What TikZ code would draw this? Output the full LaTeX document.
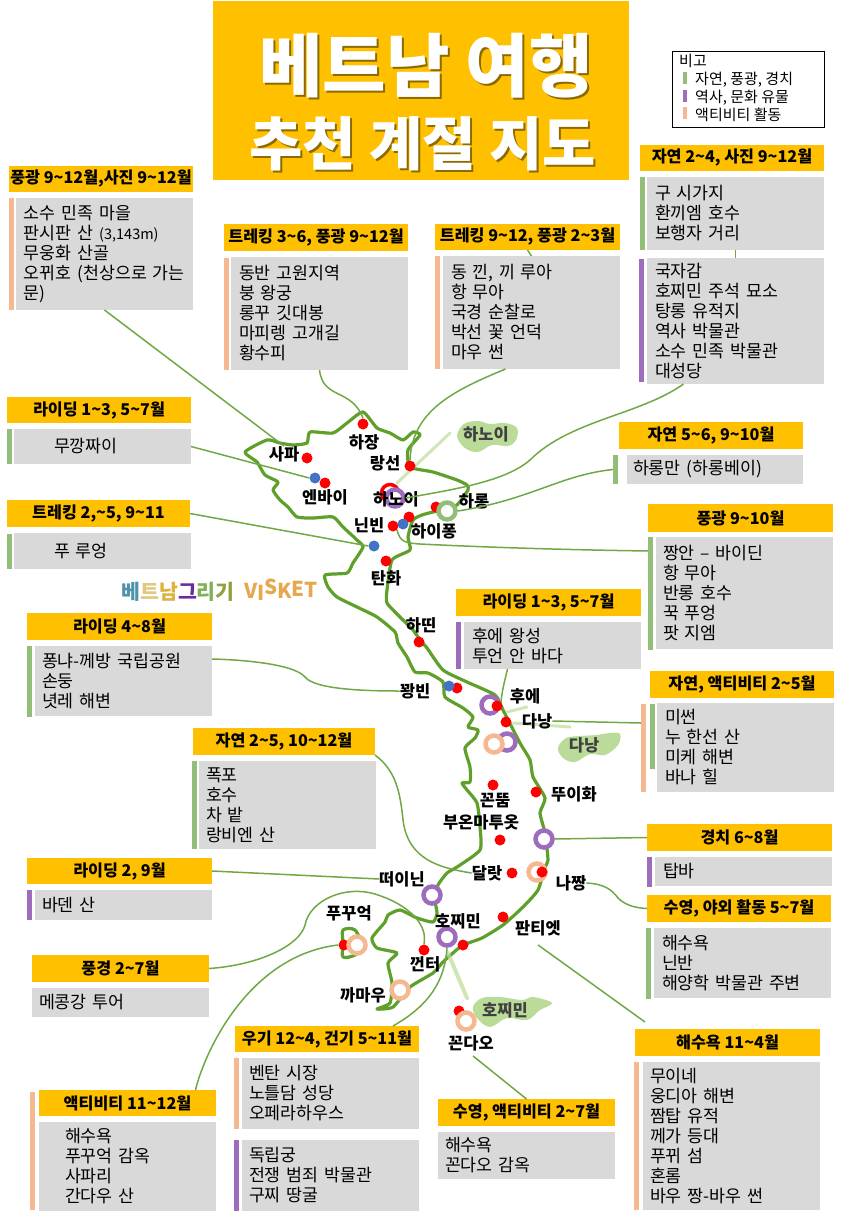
\documentclass[tikz,border=0pt]{standalone}
\usepackage{fontspec}
\setmainfont{Noto Sans CJK KR}
\usetikzlibrary{positioning, calc}
\definecolor{orangehead}{HTML}{FFC000}
\definecolor{greybody}{HTML}{D9D9D9}
\definecolor{greenbar}{HTML}{93BE7A}
\definecolor{purplebar}{HTML}{9E6CBC}
\definecolor{peachbar}{HTML}{F5B890}
\definecolor{mapline}{HTML}{5FA02A}
\definecolor{linkline}{HTML}{6FA844}
\definecolor{dotblue}{HTML}{4472C4}
\definecolor{washgreen}{HTML}{BBDC98}
\catcode`\~=12
\begin{document}
\begin{tikzpicture}[
    x=1pt, y=-1pt,
    head/.style={fill=orangehead, anchor=north west, inner sep=0pt, outer sep=0pt, font=\fontsize{16.2}{18}\selectfont\bfseries},
    body/.style={fill=greybody, anchor=north west, inner sep=0pt, outer sep=0pt, align=left, font=\fontsize{17.3}{20}\selectfont},
    bar/.style={anchor=north west, inner sep=0pt, outer sep=0pt},
    reddot/.style={circle, fill=red, minimum size=11pt, inner sep=0pt},
    bluedot/.style={circle, fill=dotblue, minimum size=11pt, inner sep=0pt},
    ring/.style={circle, draw=#1, fill=white, line width=4.5pt, minimum size=17pt, inner sep=0pt},
    place/.style={inner sep=0pt, font=\fontsize{16.5}{18}\selectfont\bfseries},
    leaflabel/.style={inner sep=0pt, text=black!75, font=\fontsize{16.5}{18}\selectfont\bfseries},
    link/.style={linkline, line width=1.5pt},
    wash/.style={washgreen, line cap=round, opacity=.7},
    blob/.style={fill=washgreen},
    titleA/.style={font=\fontsize{69}{72}\selectfont\bfseries},
    titleB/.style={font=\fontsize{58}{62}\selectfont\bfseries}
]
    \useasboundingbox (0,0) rectangle (848,1220);

    % title, with its shadow under it
    \fill[orangehead] (213,1) rectangle (629,180);
    \node[titleA, text=orangehead!55!black] (title1s) at (428,68) {베트남 여행};
    \node[titleA, text=white] (title1) at (426,65.5) {베트남 여행};
    \node[titleB, text=orangehead!55!black] (title2s) at (424.5,146) {추천 계절 지도};
    \node[titleB, text=white] (title2) at (422.5,143.5) {추천 계절 지도};

    % legend
    \node[draw=black, line width=1pt, anchor=north west, minimum width=152pt, minimum height=76pt, inner sep=0pt] (legend) at (672,51) {};
    \node[anchor=west, inner sep=0pt, font=\fontsize{15}{16}\selectfont] (legendT) at (679,61) {비고};
    \foreach \txt/\col/\yy [count=\i] in {{자연, 풍광, 경치}/greenbar/78, {역사, 문화 유물}/purplebar/96, {액티비티 활동}/peachbar/113} {
        \node[fill=\col, minimum width=3.5pt, minimum height=12pt, inner sep=0pt] (legendB\i) at (685,\yy) {};
        \node[anchor=west, inner sep=0pt, font=\fontsize{15}{16}\selectfont] (legendL\i) at (695,\yy+1.5) {\txt};
    }

    % logo
    \node[inner sep=0pt, font=\fontsize{20.5}{21}\selectfont\bfseries] (logo) at (178,592) {\textcolor[HTML]{4F93A8}{베}\textcolor[HTML]{E2C77E}{트}\textcolor[HTML]{DDB13C}{남}\textcolor[HTML]{6A2C9C}{그}\textcolor[HTML]{7FB05A}{리}\textcolor[HTML]{93A040}{기}};
    \node[inner sep=0pt, text={rgb,255:red,229;green,168;blue,78}, font=\fontsize{20.5}{22}\selectfont\bfseries] (visket) at (281,590) {V\raisebox{-2pt}{I}\raisebox{4pt}{S}K\raisebox{2pt}{E}\raisebox{1pt}{T}};

    % map
    \draw[mapline, line width=3.2pt, line join=round] plot[smooth cycle, tension=.35] coordinates {
        (363,412) (347,423) (333,433) (310,432) (307,443) (293,445) (280,443) (267,440) (245,452)
        (257,462) (265,475) (278,482) (273,490) (280,500) (288,507) (297,517) (313,518) (333,517)
        (343,527) (357,540) (363,547) (353,563) (347,573) (325,575) (328,587) (337,597) (357,607)
        (377,617) (395,632) (398,643) (407,657) (415,672) (428,673) (443,682) (445,697) (463,708)
        (473,717) (468,727) (478,730) (475,738) (465,748) (470,767) (470,782) (462,783) (467,790)
        (477,803) (480,827) (480,850) (457,867) (447,873) (438,885) (435,900) (437,913) (433,922)
        (417,918) (400,910) (388,915) (385,922) (372,938) (377,948) (397,953) (388,963) (392,983)
        (390,1003) (377,1009) (393,1007) (410,987) (433,973) (443,962) (453,953) (463,945) (482,938)
        (503,925) (523,907) (538,890) (545,867) (548,860) (545,833) (540,813) (545,798) (533,777)
        (530,760) (520,743) (503,710) (495,695) (467,682) (443,670) (427,648) (420,640) (413,630)
        (400,617) (387,603) (387,590) (392,560) (410,550) (408,537) (413,520) (422,515) (433,512)
        (445,510) (457,505) (468,490) (467,485) (457,480) (433,472) (410,467) (408,450) (420,435)
        (413,432) (403,440) (390,433) (377,428)
    };
    \draw[mapline, line width=3.2pt, line join=round] plot[smooth cycle, tension=.5] coordinates {(343,930) (355,930) (362,947) (355,955) (343,957) (343,943)};

    % wash leaders and leaves
    \draw[wash, line width=3pt] (450,433) -- (397,483);
    \draw[wash, line width=3pt] (527,707) -- (507,712);
    \draw[wash, line width=3pt] (570,727) -- (513,723);
    \draw[wash, line width=4pt] (467,998) -- (448,953);
    \fill[blob] plot[smooth cycle, tension=.6] coordinates {(457,436) (464,424) (478,421) (490,424) (505,423) (517,428) (516,440) (508,446) (492,445) (478,452) (465,448)};
    \fill[blob] plot[smooth cycle, tension=.6] coordinates {(558,748) (566,738) (580,736) (596,735) (610,733) (620,734) (618,745) (605,755) (590,754) (575,762) (563,758)};
    \fill[blob] plot[smooth cycle, tension=.6] coordinates {(473,1007) (482,998) (500,997) (522,1000) (533,997) (552,1003) (540,1010) (527,1020) (507,1018) (490,1027) (477,1018)};

    % cities
    \node[circle, draw=red, line width=3.5pt, minimum size=17pt, inner sep=0pt] (hanoiR) at (390,493) {};
    \foreach \name/\xx/\yy in {dHagiang/363/424, dSapa/307/458, dYenbai/325/483, dLangson/410/466, dHalong/436/507, dHaiphong/409/517,
        dNinhbinh/393/526, dThanhhoa/386/561, dHatinh/419/642, dQuangbinh/457/688, dDanang/506/722, dKontum/493/785, dTuyhoa/536/792,
        dBuon/500/840, dDalat/512/873, dPhanthiet/503/917, dHcm/463/945, dCantho/424/950, dPhuquoc/344/945, dCondao/459/1011} {
        \node[reddot] (\name) at (\xx,\yy) {};
    }
    \foreach \name/\xx/\yy in {bYenbai/315/478, bNinhbinh/403/524, bMuong/374/546, bQuangbinh/449/686} {
        \node[bluedot] (\name) at (\xx,\yy) {};
    }
    \foreach \name/\col/\xx/\yy in {rHanoi/purplebar/395/498, rHalong/greenbar/447/511, rHue/purplebar/490/705, rHoian/purplebar/507/742,
        rMyson/peachbar/494/744, rKhanh/purplebar/544/839, rNhatrang/peachbar/537/872, rTayninh/purplebar/432/895, rHcm/purplebar/447/937,
        rPhuquoc/peachbar/357/945, rCamau/peachbar/400/990, rCondao/peachbar/466/1021} {
        \node[ring=\col] (\name) at (\xx,\yy) {};
    }
    \node[reddot] (dHue) at (497,706) {};
    \node[reddot] (dNhatrang) at (542,872) {};
    \foreach \name/\xx/\yy/\txt in {lSapa/284/454/사파, lHagiang/364/442/하장, lLangson/385/463/랑선, lYenbai/325/497/엔바이, lHanoi/396/499/하노이,
        lHalong/474/501/하롱, lNinhbinh/369/525/닌빈, lHaiphong/434/531/하이퐁, lThanhhoa/386/578/탄화, lHatinh/421/625/하띤, lQuangbinh/415/691/꽝빈,
        lHue/525/696/후에, lDanang/537/721/다낭, lTuyhoa/574/794/뚜이화, lKontum/495/801/꼰뚬, lBuon/481/822/부온마투옷, lDalat/487/873/달랏,
        lNhatrang/571/883/나짱, lTayninh/402/879/떠이닌, lHcm/458/921/호찌민, lPhanthiet/538/928/판티엣, lPhuquoc/349/913/푸꾸억, lCantho/425/964/껀터,
        lCamau/363/995/까마우, lCondao/471/1043/꼰다오} {
        \node[place] (\name) at (\xx,\yy) {\txt};
    }
    \foreach \name/\xx/\yy/\txt in {lLeafN/486/434/하노이, lLeafC/584/745/다낭, lLeafS/505/1010/호찌민} {
        \node[leaflabel] (\name) at (\xx,\yy) {\txt};
    }

    % orange headers
    \foreach \name/\xx/\yy/\ww/\hh/\txt in {
        hSapa/9/166/184/26/{풍광 9~12월,사진 9~12월},
        hCaobang/224/224/184/27/{트레킹 3~6, 풍광 9~12월},
        hHagiang/435/224/185/26/{트레킹 9~12, 풍광 2~3월},
        hHanoi/640/145/184/26/{자연 2~4, 사진 9~12월},
        hMucang/7/397/184/26/{라이딩 1~3, 5~7월},
        hPuluong/7/500/183/27/{트레킹 2,~5, 9~11},
        hHalong/619/422/184/27/{자연 5~6, 9~10월},
        hNinhbinh/648/504/185/28/{풍광 9~10월},
        hHue/456/589/185/27/{라이딩 1~3, 5~7월},
        hDanang/650/671/184/27/{자연, 액티비티 2~5월},
        hPhong/27/613/185/27/{라이딩 4~8월},
        hDalat/193/728/182/27/{자연 2~5, 10~12월},
        hBaden/27/858/185/26/{라이딩 2, 9월},
        hThap/647/824/185/27/{경치 6~8월},
        hNhatrang/647/895/184/27/{수영, 야외 활동 5~7월},
        hMekong/32/955/177/27/{풍경 2~7월},
        hMuine/635/1029/185/27/{해수욕 11~4월},
        hSaigon/235/1026/184/26/{우기 12~4, 건기 5~11월},
        hCondao/438/1099/177/27/{수영, 액티비티 2~7월},
        hPhuquoc/39/1090/177/26/{액티비티 11~12월}} {
        \node[head, minimum width=\ww pt, minimum height=\hh pt] (\name) at (\xx,\yy) {\txt};
    }

    % grey bodies
    \foreach \name/\xx/\yy/\ww/\hh/\pad/\txt in {
        bSapa/16/198/177/112/8/{소수 민족 마을\\판시판 산 {\fontsize{14.5}{20}\selectfont (3,143m)}\\무웅화 산골\\오뀌호 (천상으로 가는\\문)},
        bCaobang/231/257/177/113/8/{동반 고원지역\\붕 왕궁\\롱꾸 깃대봉\\마피렝 고개길\\황수피},
        bHagiang/443/256/177/113/8/{동 낀, 끼 루아\\항 무아\\국경 순찰로\\박선 꽃 언덕\\마우 썬},
        bOldquarter/647/177/177/73/8/{구 시가지\\환끼엠 호수\\보행자 거리},
        bHanoi/647/258/177/126/8/{국자감\\호찌민 주석 묘소\\탕롱 유적지\\역사 박물관\\소수 민족 박물관\\대성당},
        bMucang/14/429/177/35/40/{무깡짜이},
        bPuluong/14/533/177/36/40/{푸 루엉},
        bHalong/627/455/176/29/6/{하롱만 (하롱베이)},
        bNinhbinh/656/537/177/112/7/{짱안 – 바이딘\\항 무아\\반롱 호수\\꾹 푸엉\\팟 지엠},
        bHue/464/622/177/47/8/{후에 왕성\\투언 안 바다},
        bDanang/657/703/177/89/8/{미썬\\누 한선 산\\미케 해변\\바나 힐},
        bPhong/35/646/177/70/7/{퐁냐-께방 국립공원\\손둥\\녓레 해변},
        bDalat/199/761/177/88/7/{폭포\\호수\\차 밭\\랑비엔 산},
        bBaden/35/890/177/30/7/{바덴 산},
        bThap/655/857/177/29/8/{탑바},
        bNhatrang/654/928/177/70/8/{해수욕\\닌반\\해양학 박물관 주변},
        bMuine/643/1062/177/148/7/{무이네\\웅디아 해변\\짬탑 유적\\께가 등대\\푸뀌 섬\\혼롬\\바우 짱-바우 썬},
        bMekong/32/988/177/29/7/{메콩강 투어},
        bSaigon/242/1058/177/71/7/{벤탄 시장\\노틀담 성당\\오페라하우스},
        bWar/242/1140/177/71/7/{독립궁\\전쟁 범죄 박물관\\구찌 땅굴},
        bCondao/438/1132/177/47/7/{해수욕\\꼰다오 감옥},
        bPhuquoc/39/1122/177/89/26/{해수욕\\푸꾸억 감옥\\사파리\\간다우 산}} {
        \node[body, text width=\ww pt, minimum height=\hh pt, execute at begin node={\leftskip=\pad pt}] (\name) at (\xx,\yy) {\txt};
    }

    % coloured bars
    \foreach \name/\col/\xx/\yy/\hh in {
        sSapa/peachbar/9/198/112, sCaobang/peachbar/224/258/112, sHagiang/peachbar/435/256/113, sOldquarter/greenbar/640/177/73,
        sHanoi/purplebar/639/259/123, sMucang/greenbar/7/429/35, sPuluong/greenbar/7/534/35, sHalong/greenbar/613/455/29,
        sNinhbinh/greenbar/648/537/113, sHue/purplebar/456/622/47, sDanangA/peachbar/641/704/88, sDanangB/greenbar/650/704/65,
        sPhong/greenbar/27/646/71, sDalat/greenbar/192/761/88, sBaden/purplebar/27/890/30, sThap/purplebar/647/857/30,
        sNhatrang/greenbar/646/928/71, sMuine/peachbar/634/1062/148, sSaigon/peachbar/234/1058/71, sWar/purplebar/234/1140/71,
        sPhuquoc/peachbar/30/1092/118} {
        \node[bar, fill=\col, minimum width=4.5pt, minimum height=\hh pt] (\name) at (\xx,\yy) {};
    }

    % connectors
    \draw[link] (bSapa.south) -- (lSapa.north);
    \draw[link] (bCaobang.south) .. controls (323,400) and (352,388) .. (dHagiang.north);
    \draw[link] ($(bHagiang.south)+(-26,0)$) .. controls (455,390) and (412,410) .. (dLangson.north);
    \draw[link] (hHagiang.south) -- (bHagiang.north);
    \draw[link] (bOldquarter.south) -- (bHanoi.north);
    \draw[link] ($(bHanoi.south)+(-52,0)$) .. controls (640,415) and (570,420) .. (530,460) .. controls (505,482) and (450,490) .. (rHanoi.east);
    \draw[link] (bMucang.east) -- (bYenbai.west);
    \draw[link] (hPuluong.east) -- (bMuong.west);
    \draw[link] (sHalong.west) .. controls (560,475) and (530,500) .. (rHalong.east);
    \draw[link] (dNinhbinh.south east) .. controls (400,542) and (405,543) .. (420,544) .. controls (500,548) and (580,550) .. ($(sNinhbinh.north west)+(0,14)$);
    \draw[link] ($(bHue.south)+(-45,0)$) .. controls (505,680) and (502,690) .. (dHue.north east);
    \draw[link] (lDanang.east) -- ($(sDanangA.north west)+(0,19)$);
    \draw[link] ($(bPhong.north east)+(0,13)$) .. controls (250,660) and (295,665) .. (305,677) .. controls (315,690) and (370,691) .. (lQuangbinh.west);
    \draw[link] (hDalat.south east) .. controls (395,770) and (400,790) .. (403,820) .. controls (408,860) and (440,868) .. (lDalat.west);
    \draw[link] (hBaden.east) -- (lTayninh.west);
    \draw[link] (hThap.west) -- (rKhanh.east);
    \draw[link] (lNhatrang.east) .. controls (605,884) and (612,890) .. (618,898) .. controls (625,905) and (635,908) .. (hNhatrang.west);
    \coordinate (muineEnd) at (645,1022);
    \draw[link] ($(lPhanthiet.south)+(0,9)$) -- (muineEnd);
    \draw[link] ($(lCondao.south)+(2,5)$) -- (hCondao.north);
    \draw[link] ($(hSaigon.north)+(66,0)$) .. controls (430,1005) and (445,980) .. (rHcm.south);
    \draw[link] (hMekong.east) .. controls (260,965) and (300,945) .. (305,925) .. controls (310,900) and (345,885) .. (375,894) .. controls (410,905) and (428,925) .. (dCantho.north);
    \draw[link] ($(hPhuquoc.north)+(68,0)$) .. controls (205,1050) and (250,955) .. (dPhuquoc.west);
\end{tikzpicture}
\end{document}
